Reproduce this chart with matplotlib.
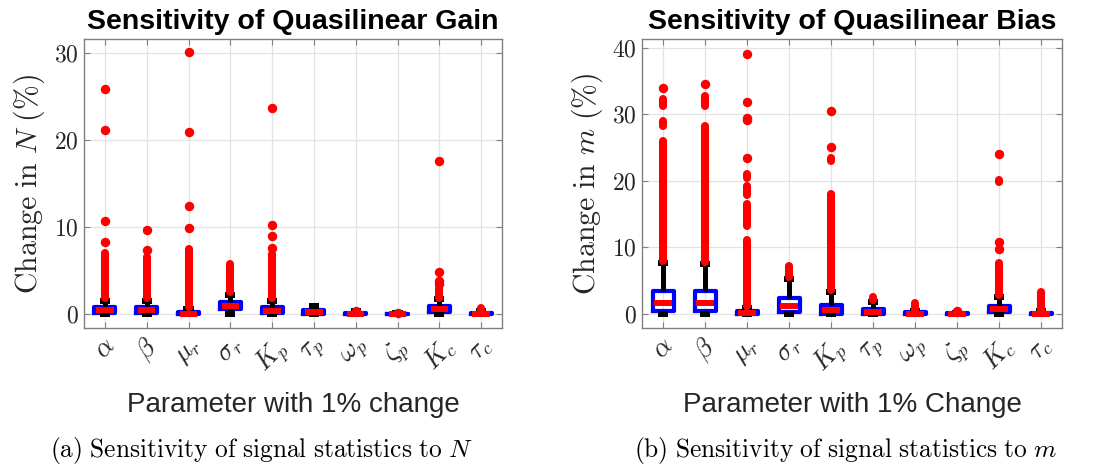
import matplotlib
matplotlib.use("Agg")
import matplotlib.pyplot as plt

plt.rcParams["mathtext.fontset"] = "cm"
plt.rcParams["font.family"] = ["Liberation Sans", "DejaVu Sans"]

params = [r"$\alpha$", r"$\beta$", r"$\mu_r$", r"$\sigma_r$", r"$K_p$",
          r"$\tau_p$", r"$\omega_p$", r"$\zeta_p$", r"$K_c$", r"$\tau_c$"]

# ---- Quasilinear gain N: percent change per parameter ----
gain_q1 = [0.10, 0.10, 0.00, 0.60, 0.10, 0.00, 0.00, 0.00, 0.25, 0.00]
gain_med = [0.45, 0.45, 0.05, 0.95, 0.40, 0.20, 0.05, 0.02, 0.60, 0.05]
gain_q3 = [0.85, 0.85, 0.25, 1.35, 0.85, 0.45, 0.15, 0.06, 0.95, 0.15]
gain_whislo = [0, 0, 0, 0, 0, 0, 0, 0, 0, 0]
gain_whishi = [1.45, 1.45, 0.60, 2.20, 1.50, 0.95, 0.30, 0.10, 1.70, 0.30]
gain_outliers = [[8.3, 10.7, 21.1, 25.8], [7.4, 9.7], [9.9, 12.4, 20.9, 30.1],
                 [], [7.6, 9.0, 10.2, 23.7], [], [0.38], [0.12],
                 [3.5, 3.8, 4.8, 17.6], []]
# closely packed outliers, given as (lowest, highest) value of each cluster
gain_outlier_runs = [[(1.8, 7.0)], [(1.8, 6.5)], [(0.8, 7.5)], [(2.5, 5.8)],
                     [(1.8, 6.9)], [], [], [], [(1.9, 3.0)], [(0.35, 0.75)]]

# ---- Quasilinear bias m: percent change per parameter ----
bias_q1 = [0.45, 0.45, 0.00, 0.35, 0.05, 0.02, 0.00, 0.00, 0.25, 0.00]
bias_med = [1.60, 1.60, 0.10, 1.20, 0.60, 0.30, 0.05, 0.02, 0.70, 0.05]
bias_q3 = [3.50, 3.50, 0.40, 2.40, 1.30, 0.75, 0.25, 0.10, 1.20, 0.20]
bias_whislo = [0, 0, 0, 0, 0, 0, 0, 0, 0, 0]
bias_whishi = [7.60, 7.50, 0.90, 5.30, 3.30, 1.80, 0.50, 0.15, 2.60, 0.45]
bias_outliers = [[33.9], [34.6], [23.5, 29.1, 29.5, 31.9, 39.1], [],
                 [25.1, 30.5], [], [], [0.25, 0.4], [9.7, 10.85, 24.1], []]
bias_outlier_runs = [[(7.9, 26.0), (28.2, 29.0), (31.2, 32.3)],
                     [(7.8, 28.3), (31.2, 32.8)],
                     [(1.2, 11.1), (13.2, 16.5), (17.9, 19.2), (20.5, 21.1)],
                     [(5.6, 7.2)],
                     [(3.6, 18.0), (23.0, 23.5)],
                     [(2.1, 2.5)], [(0.6, 1.6)], [],
                     [(2.9, 7.7), (19.8, 20.2)],
                     [(0.5, 3.3)]]

AX_GRAY = "#808080"
TXT = "#262626"


def draw_panel(ax, q1, med, q3, wlo, whi, outl, runs, ylim, yticks, title, ylabel):
    pos = list(range(1, len(q1) + 1))
    stats = [dict(q1=a, med=m, q3=b, whislo=lo, whishi=hi, fliers=f)
             for a, m, b, lo, hi, f in zip(q1, med, q3, wlo, whi, outl)]
    res = ax.bxp(stats, positions=pos, widths=0.5, capwidths=0.24,
                 manage_ticks=False,
                 boxprops=dict(color="blue", lw=3.0, solid_joinstyle="round"),
                 medianprops=dict(color="red", lw=4.3, solid_capstyle="butt"),
                 whiskerprops=dict(color="black", lw=3.6, solid_capstyle="butt"),
                 capprops=dict(color="black", lw=4.3, solid_capstyle="butt"),
                 flierprops=dict(marker="o", markerfacecolor="red",
                                 markeredgecolor="red", markersize=5.8,
                                 linestyle="none"))
    for ln in res["medians"]:
        x0, x1 = ln.get_xdata()[:2]
        c = 0.5 * (x0 + x1)
        ln.set_xdata([c - 0.21, c + 0.21])
    for ln in res["fliers"]:
        ln.set_zorder(3)
    for p, rr in zip(pos, runs):
        for lo, hi in rr:
            ax.vlines(p, lo, hi, colors="red", lw=5.8, capstyle="round", zorder=3)

    ax.set_xlim(0.5, len(q1) + 0.5)
    ax.set_ylim(*ylim)
    ax.set_xticks(pos)
    ax.set_xticklabels(params, rotation=45, fontsize=19, color=TXT)
    ax.set_yticks(yticks)
    ax.set_yticklabels([f"${v}$" for v in yticks], fontsize=17, color=TXT)
    ax.tick_params(direction="in", top=True, right=True, length=4,
                   color=AX_GRAY, width=0.8)
    ax.tick_params(axis="x", pad=4)
    ax.tick_params(axis="y", pad=4)
    ax.grid(True, color="#e3e3e3", lw=0.9)
    ax.set_axisbelow(True)
    for s in ax.spines.values():
        s.set_color(AX_GRAY)
        s.set_linewidth(1.0)
    ax.set_title(title, fontsize=20.5, fontweight="bold", pad=7)
    ax.set_ylabel(ylabel, fontsize=21.5, color=TXT)


fig = plt.figure(figsize=(10.93, 4.71), dpi=100)
H = 471.0
W = 1093.0
ax_l = fig.add_axes([84 / W, 1 - 328 / H, 418 / W, 289 / H])
ax_r = fig.add_axes([642 / W, 1 - 328 / H, 420 / W, 289 / H])

draw_panel(ax_l, gain_q1, gain_med, gain_q3, gain_whislo, gain_whishi,
           gain_outliers, gain_outlier_runs, (-1.6, 31.6), [0, 10, 20, 30],
           "Sensitivity of Quasilinear Gain", r"$\mathrm{Change\ in\ }N\ \mathrm{(\%)}$")
draw_panel(ax_r, bias_q1, bias_med, bias_q3, bias_whislo, bias_whishi,
           bias_outliers, bias_outlier_runs, (-2.1, 41.3), [0, 10, 20, 30, 40],
           "Sensitivity of Quasilinear Bias", r"$\mathrm{Change\ in\ }m\ \mathrm{(\%)}$")

ax_l.yaxis.set_label_coords(-0.088, 0.5)
ax_r.yaxis.set_label_coords(-0.088, 0.5)

fig.text(293 / W, 1 - 405 / H, "Parameter with 1% change", fontsize=20,
         ha="center", va="center", color=TXT)
fig.text(852 / W, 1 - 405 / H, "Parameter with 1% Change", fontsize=20,
         ha="center", va="center", color=TXT)

fig.text(261 / W, 1 - 450 / H,
         r"$\mathrm{(a)\ Sensitivity\ of\ signal\ statistics\ to\ }N$",
         fontsize=18.3, ha="center", va="center")
fig.text(846 / W, 1 - 450 / H,
         r"$\mathrm{(b)\ Sensitivity\ of\ signal\ statistics\ to\ }m$",
         fontsize=18.3, ha="center", va="center")

fig.savefig("out.png", dpi=100, facecolor="white")
